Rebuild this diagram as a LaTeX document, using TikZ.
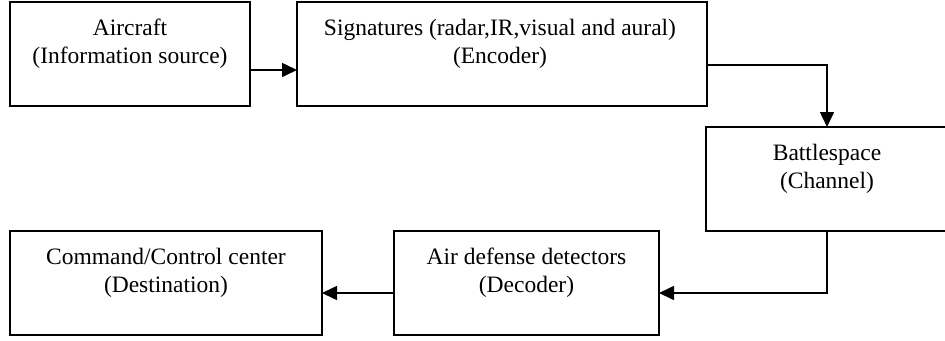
\documentclass[tikz,border=0pt]{standalone}
\usepackage{fontspec}
\setmainfont{Liberation Serif}
\usetikzlibrary{arrows.meta}
\begin{document}
\begin{tikzpicture}[x=1pt,y=-1pt,
  box/.style={draw, line width=1.6pt, minimum width=#1, minimum height=104pt,
    inner sep=0pt, outer sep=0pt},
  lbl/.style={anchor=north, align=center, inner sep=0pt,
    font=\fontsize{23.5}{28}\selectfont},
  link/.style={line width=1.6pt, -{Triangle[length=15pt,width=14pt]}}]
\useasboundingbox (0,0) rectangle (945,340);

% blocks of the communication chain
\node[box=240pt] (src)  at (130,54)    {};
\node[box=410pt] (enc)  at (502,54)    {};
\node[box=242pt] (chan) at (827,179)   {};
\node[box=312pt] (dst)  at (166,283)   {};
\node[box=265pt] (dec)  at (526.5,283) {};

% block captions
\node[lbl] (srcT)  at (130,19)   {Aircraft\\(Information source)};
\node[lbl] (encT)  at (500,19)   {Signatures (radar,IR,visual and aural)\\(Encoder)};
\node[lbl] (chanT) at (827,144)  {Battlespace\\(Channel)};
\node[lbl] (dstT)  at (166,248)  {Command/Control center\\(Destination)};
\node[lbl] (decT)  at (526.5,248){Air defense detectors\\(Decoder)};

% heights of the horizontal runs
\coordinate (r1) at (0,70);
\coordinate (r2) at (0,65);
\coordinate (r3) at (0,293);

% signal flow
\draw[link] (src.east |- r1) -- (enc.west |- r1);
\draw[link] (enc.east |- r2) -| (chan.north);
\draw[link] (chan.south) |- (dec.east |- r3);
\draw[link] (dec.west |- r3) -- (dst.east |- r3);
\end{tikzpicture}
\end{document}
